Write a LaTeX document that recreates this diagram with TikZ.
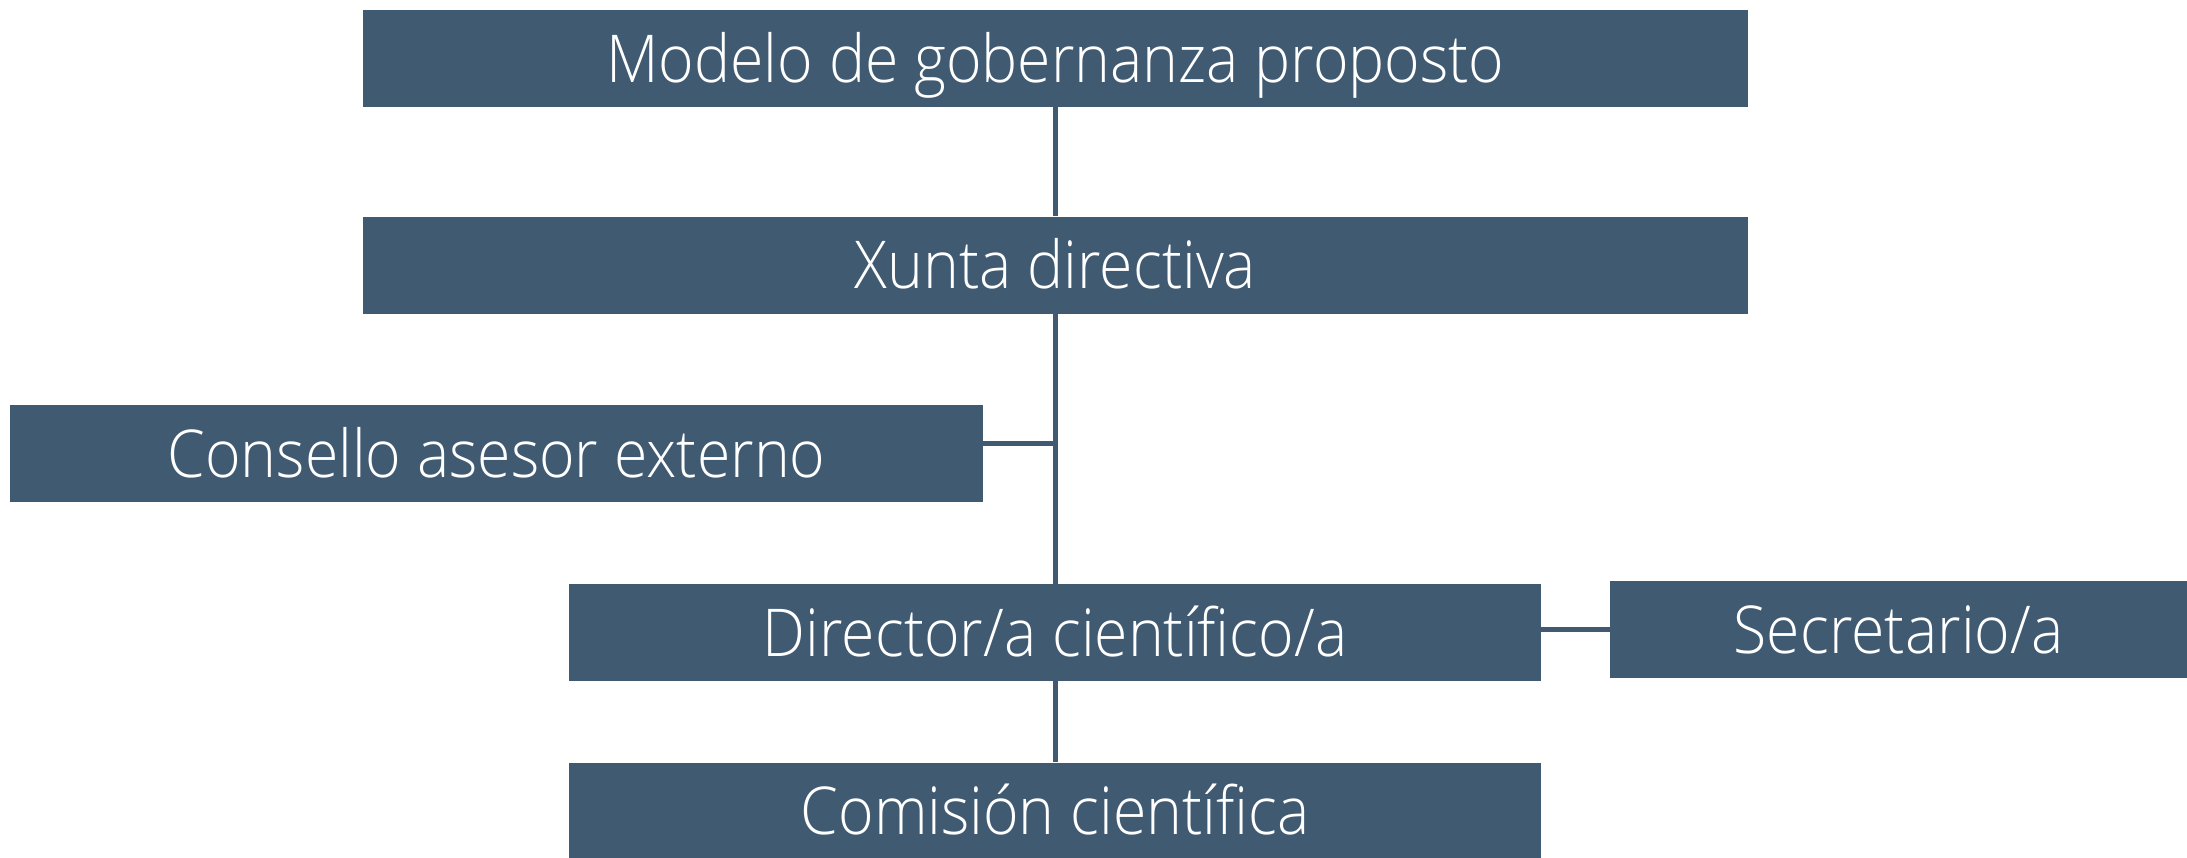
\documentclass[tikz,border=0pt]{standalone}
\usepackage{fontspec}
\setmainfont{Open Sans}[UprightFont=* Light, FakeStretch=0.92]
\usetikzlibrary{positioning}
\definecolor{azulgob}{HTML}{405A72}
\tikzset{
  caixa/.style={fill=azulgob, text=white, inner sep=0pt, minimum height=48.5pt,
    text height=23.5pt, text depth=0pt, font=\fontsize{33}{40}\selectfont},
  enlace/.style={draw=azulgob, line width=2.5pt},
}
\begin{document}
\begin{tikzpicture}[x=0.5pt, y=-0.5pt]
  \useasboundingbox (0,0) rectangle (2187,857);
  \node[caixa, minimum width=692.5pt] (titulo) at (1055.5,58.5) {Modelo de gobernanza proposto};
  \node[caixa, minimum width=692.5pt] (xunta) at (1055.5,265) {Xunta directiva};
  \node[caixa, minimum width=486.5pt] (consello) at (496.5,453.5) {Consello asesor externo};
  \node[caixa, minimum width=486pt] (director) at (1055,632.5) {Director/a científico/a};
  \node[caixa, minimum width=288.5pt] (secretario) at (1898.5,629.5) {Secretario/a};
  \node[caixa, minimum width=486pt] (comision) at (1055,811) {Comisión científica};
  \draw[enlace] (titulo.south) -- (xunta.north);
  \draw[enlace] (xunta.south) -- (xunta.south |- director.north);
  \draw[enlace] ([yshift=5pt]consello.east) -- ([yshift=5pt]consello.east -| xunta.south);
  \draw[enlace] ([yshift=1.75pt]director.east) -- ([yshift=1.75pt]director.east -| secretario.west);
  \draw[enlace] (director.south) -- (comision.north);
\end{tikzpicture}
\end{document}
